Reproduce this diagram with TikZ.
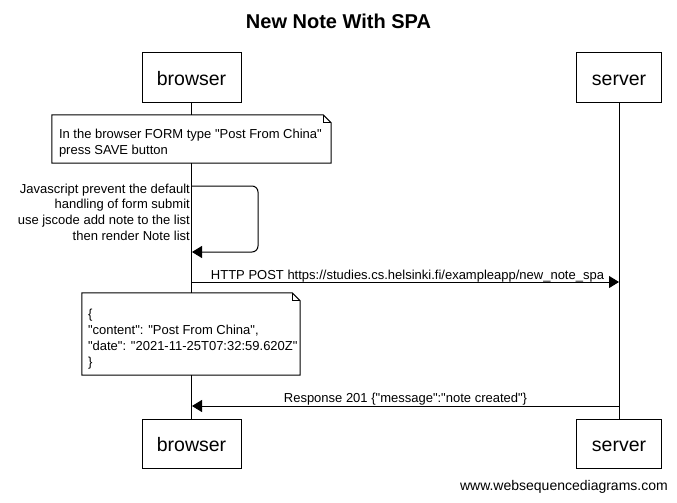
\documentclass[tikz,border=0pt]{standalone}
\usepackage{fontspec}
\setmainfont{Liberation Sans}[Ligatures=TeXOff]
\usetikzlibrary{arrows.meta}
\begin{document}
\begin{tikzpicture}[x=1pt,y=-1pt,
 actor/.style={draw,line width=1pt,minimum width=99pt,minimum height=49pt,font=\fontsize{19.5}{22}\selectfont,inner sep=0pt,fill=white,text height=18pt,text depth=2pt},
 msg/.style={font=\fontsize{13}{15.7}\selectfont,inner sep=0pt},
 notebox/.style={fill=white,inner sep=0pt},
 notetext/.style={anchor=west,inner sep=0pt,align=left,font=\fontsize{13}{16}\selectfont},
 life/.style={line width=1pt},
 arr/.style={line width=1pt,-{Triangle[length=10pt,width=12pt]}},
 outline/.style={line width=1pt},
]
\useasboundingbox (0,0) rectangle (677,503);
\node[font=\fontsize{20}{24}\selectfont\bfseries] (title) at (338.5,21) {New Note With SPA};
\node[actor] (bt) at (191.5,77.5) {browser};
\node[actor,minimum width=85pt] (st) at (619,77.5) {server};
\node[actor] (bb) at (191.5,443.5) {browser};
\node[actor,minimum width=85pt] (sb) at (619,443.5) {server};
\draw[life] (bt) -- (bb);
\draw[life] (st) -- (sb);
% note 1
\node[notebox,minimum width=279pt,minimum height=48pt] (n1) at (191.5,139) {};
\draw[outline] ([xshift=-8pt]n1.north east) -- (n1.north west) -- (n1.south west) -- (n1.south east) -- ([yshift=-8pt]n1.north east) -- cycle;
\draw[outline] ([xshift=-8pt]n1.north east) -- ([xshift=-8pt,yshift=-8pt]n1.north east) -- ([yshift=-8pt]n1.north east);
\node[notetext] (n1t) at ([xshift=7pt,yshift=-4.5pt]n1.west) {In the browser FORM type "Post From China"\\press SAVE button};
% self message
\coordinate (s1) at (192,186);
\coordinate (s2) at (192,252);
\draw[arr,rounded corners=6pt] (s1) -- (258,186) -- (258,252) -- (s2);
\node[msg,align=right,anchor=north east] (selflbl) at (190,183.5) {Javascript prevent the default\\handling of form submit\\use jscode add note to the list\\then render Note list};
% HTTP POST
\coordinate (p1) at (192,282);
\coordinate (p2) at (619,282);
\draw[arr] (p1) -- (p2);
\node[msg] (postlbl) at (407.5,276) {HTTP POST https://studies.cs.helsinki.fi/exampleapp/new\_note\_spa};
% note 2
\node[notebox,minimum width=218pt,minimum height=82pt] (n2) at (191,334) {};
\draw[outline] ([xshift=-8pt]n2.north east) -- (n2.north west) -- (n2.south west) -- (n2.south east) -- ([yshift=-8pt]n2.north east) -- cycle;
\draw[outline] ([xshift=-8pt]n2.north east) -- ([xshift=-8pt,yshift=-8pt]n2.north east) -- ([yshift=-8pt]n2.north east);
\node[notetext] (n2t) at ([xshift=6pt,yshift=-5pt]n2.west) {\{\\"content": "Post From China",\\"date": "2021-11-25T07:32:59.620Z"\\\}};
% response
\coordinate (r1) at (619,406);
\coordinate (r2) at (192,406);
\draw[arr] (r1) -- (r2);
\node[msg] (resplbl) at (405.5,399) {Response 201 \{"message":"note created"\}};
\node[font=\fontsize{14}{16}\selectfont,anchor=east,inner sep=0pt] (wm) at (668,487) {www.websequencediagrams.com};
\end{tikzpicture}
\end{document}
